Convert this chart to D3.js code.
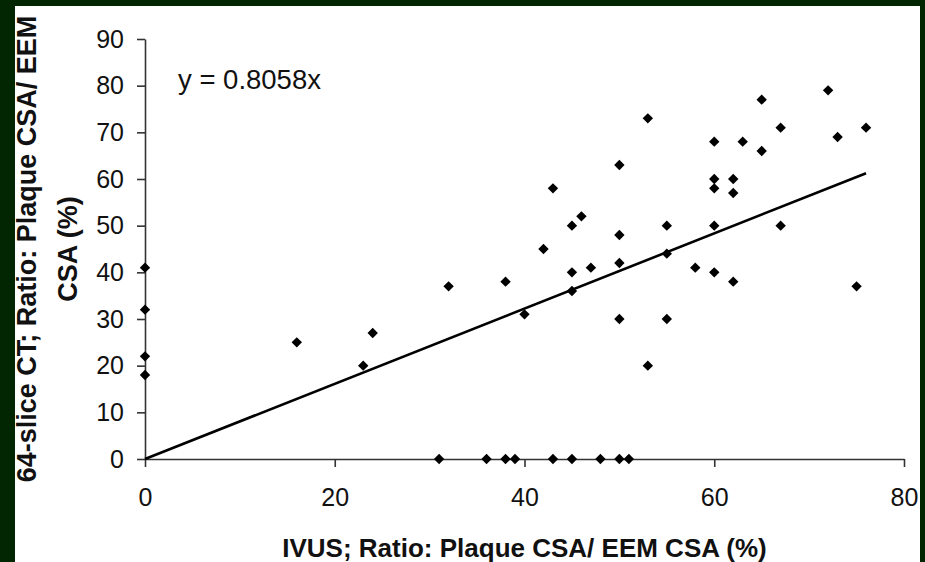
<!DOCTYPE html>
<html>
<head>
<meta charset="utf-8">
<script src="https://cdn.jsdelivr.net/npm/d3@7"></script>
<style>
  html, body { margin: 0; padding: 0; background: #022602; }
  svg { display: block; }
  .tick text { font-family: "Liberation Sans", Arial, sans-serif; }
</style>
</head>
<body>
<div id="chart"></div>
<script>
// IVUS (x) vs 64-slice CT (y) plaque burden, %
const ivus = [0, 0, 0, 0, 16, 23, 24, 32, 31, 36, 38, 39, 43, 45, 48, 50, 51,
  38, 40, 42, 43, 45, 46, 45, 45, 47, 50, 50, 50, 50, 53, 53,
  55, 55, 55, 58, 60, 60, 60, 60, 60, 62, 62, 62, 63, 65, 65, 67, 67, 72, 73, 75, 76];
const ct = [41, 32, 22, 18, 25, 20, 27, 37, 0, 0, 0, 0, 0, 0, 0, 0, 0,
  38, 31, 45, 58, 50, 52, 40, 36, 41, 63, 48, 42, 30, 73, 20,
  50, 44, 30, 41, 68, 60, 58, 50, 40, 60, 57, 38, 68, 77, 66, 71, 50, 79, 69, 37, 71];
const slope = 0.8058;
const xTicks = [0, 20, 40, 60, 80];
const yTicks = [0, 10, 20, 30, 40, 50, 60, 70, 80, 90];

const W = 925, H = 562;
const font = '"Liberation Sans", Arial, sans-serif';

const svg = d3.select('#chart').append('svg')
    .attr('width', W)
    .attr('height', H);

svg.append('rect').attr('width', W).attr('height', H).attr('fill', '#022602');

// white panel (content clipped to it)
svg.append('clipPath').attr('id', 'panel')
    .append('rect').attr('x', 15).attr('y', 6).attr('width', 905).attr('height', 556);
svg.append('rect')
    .attr('x', 15).attr('y', 6).attr('width', 905).attr('height', 556)
    .attr('fill', '#fff');

const g = svg.append('g').attr('clip-path', 'url(#panel)');

const x = d3.scaleLinear().domain([0, 80]).range([145, 904]);
const y = d3.scaleLinear().domain([0, 90]).range([459, 39]);

// Y axis
const yAxis = g.append('g')
    .attr('transform', `translate(${x(0)},0)`)
    .call(d3.axisLeft(y).tickValues(yTicks).tickSize(8).tickPadding(13).tickSizeOuter(0));
yAxis.select('.domain').attr('stroke', '#333').attr('stroke-width', 1.6);
yAxis.selectAll('.tick line').attr('stroke', '#333').attr('stroke-width', 1.6);
yAxis.selectAll('.tick text').attr('font-size', 25).attr('fill', '#111');

// X axis
const xAxis = g.append('g')
    .attr('transform', `translate(0,${y(0)})`)
    .call(d3.axisBottom(x).tickValues(xTicks).tickSize(8).tickPadding(21).tickSizeOuter(0));
xAxis.select('.domain').attr('stroke', '#333').attr('stroke-width', 1.6);
xAxis.selectAll('.tick line').attr('stroke', '#333').attr('stroke-width', 1.6);
xAxis.selectAll('.tick text').attr('font-size', 25).attr('fill', '#111');

// trend line y = 0.8058x
const xMax = d3.max(ivus);
g.append('line')
    .attr('x1', x(0)).attr('y1', y(0))
    .attr('x2', x(xMax)).attr('y2', y(slope * xMax))
    .attr('stroke', '#000')
    .attr('stroke-width', 2.6);

// diamond markers
const diamond = d3.symbol().type(d3.symbolSquare).size(54);
g.selectAll('.pt')
    .data(ivus.map((v, i) => [v, ct[i]]))
    .enter()
    .append('path')
    .attr('class', 'pt')
    .attr('d', diamond)
    .attr('transform', d => `translate(${x(d[0])},${y(d[1])}) rotate(45)`)
    .attr('fill', '#000');

// equation label
g.append('text')
    .attr('x', 178).attr('y', 89)
    .attr('font-family', font)
    .attr('font-size', 27.5)
    .attr('fill', '#111')
    .text('y = 0.8058x');

// axis titles
g.append('text')
    .attr('x', (x(0) + x(80)) / 2).attr('y', 557)
    .attr('text-anchor', 'middle')
    .attr('font-family', font)
    .attr('font-weight', 'bold')
    .attr('font-size', 26)
    .attr('fill', '#111')
    .text('IVUS; Ratio: Plaque CSA/ EEM CSA (%)');

const yTitle = g.append('text')
    .attr('transform', `translate(0,${(y(0) + y(90)) / 2}) rotate(-90)`)
    .attr('text-anchor', 'middle')
    .attr('font-family', font)
    .attr('font-weight', 'bold')
    .attr('font-size', 27)
    .attr('fill', '#111');
yTitle.append('tspan').attr('x', 0).attr('y', 36).text('64-slice CT; Ratio: Plaque CSA/ EEM');
yTitle.append('tspan').attr('x', 0).attr('y', 77).text('CSA (%)');
</script>
</body>
</html>
